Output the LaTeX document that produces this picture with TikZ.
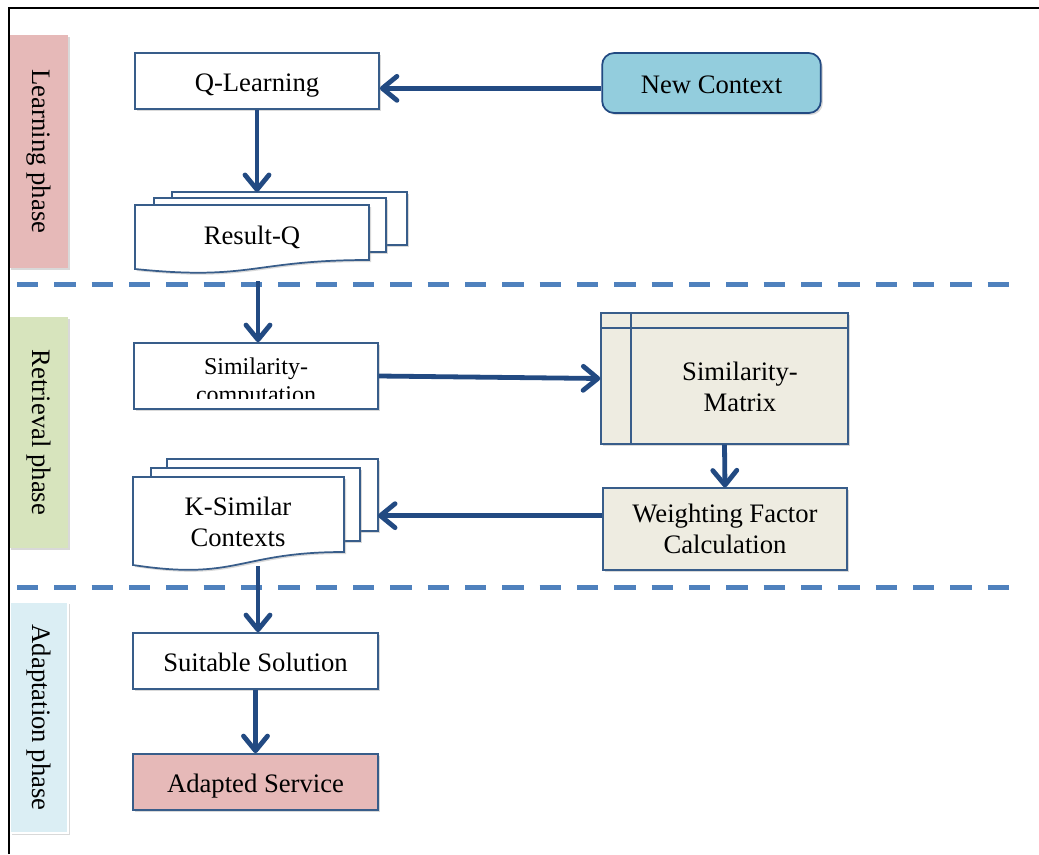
\documentclass[tikz,border=0pt]{standalone}
\usepackage{fontspec}
\setmainfont{Liberation Serif}
\usetikzlibrary{arrows.meta, positioning, calc, shadows}
\definecolor{boxline}{RGB}{56,93,138}
\definecolor{flowblue}{RGB}{34,74,130}
\definecolor{dashblue}{RGB}{79,129,189}
\definecolor{learnpink}{RGB}{230,185,184}
\definecolor{retrgreen}{RGB}{215,228,189}
\definecolor{adaptblue}{RGB}{219,238,244}
\definecolor{ctxblue}{RGB}{147,205,221}
\definecolor{paper}{RGB}{238,236,225}

\begin{document}
\begin{tikzpicture}[x=0.75pt, y=-0.75pt,
  font=\fontsize{20}{23}\selectfont,
  softshadow/.style={drop shadow={opacity=0.3, shadow xshift=1.5pt, shadow yshift=-1.5pt}},
  flowbox/.style={draw=boxline, line width=1.3pt, fill=white, minimum width=183pt,
    minimum height=42pt, inner sep=0pt, align=center, softshadow},
  oneline/.style={text height=15pt, text depth=0pt},
  docfill/.style={draw=boxline, line width=1.3pt, fill=white, softshadow},
  phaseband/.style={minimum width=175pt, minimum height=44pt, inner sep=0pt,
    rotate=-90, softshadow},
  flowarrow/.style={draw=flowblue, line width=3.6pt,
    -{Straight Barb[length=11pt, width=18pt, round]}},
  phasecut/.style={draw=dashblue, line width=3.75pt, dash pattern=on 16pt off 12pt}]
  \useasboundingbox (0,0) rectangle (1039,854);

  % phase bands
  \node[phaseband, fill=learnpink] (learnband) at (38.5,151.5) {Learning phase};
  \node[phaseband, fill=retrgreen, minimum width=173pt] (retrband) at (38.5,432.5) {Retrieval phase};
  \node[phaseband, fill=adaptblue, draw=white, line width=1.5pt, minimum width=173pt] (adaptband) at (39,717.5) {Adaptation phase};

  % frame
  \draw[black, line width=2pt] (9,854) -- (9,8) -- (1039,8);

  % phase separators
  \draw[phasecut] (17,284) -- (1010,284);
  \draw[phasecut] (17,587) -- (1010,587);

  % learning phase
  \node[flowbox, oneline] (qlearn) at (257,81) {Q-Learning};
  \node[flowbox, oneline, fill=ctxblue, draw=flowblue, rounded corners=9pt,
    minimum width=164pt, minimum height=45pt] (newctx) at (711.5,83) {New Context};
  \draw[docfill] (172,192) rectangle (407,245);
  \draw[docfill] (154,198) rectangle (386,252);
  \draw[docfill] (135,205) -- (369,205) -- (369,260) .. controls (252,260) and (252,281) .. (135,269) -- cycle;
  \node (resq) at (252,237) {Result-Q};
  \coordinate (resqtop) at (289,192);

  % retrieval phase
  \node[flowbox, minimum height=49.5pt] (simc) at (256,376) {};
  \begin{scope}
    \clip (137,346) rectangle (375,398);
    \node[align=center, font=\fontsize{18}{21}\selectfont] (simctext) at (256,383) {Similarity-\\computation};
  \end{scope}
  \node[flowbox, fill=paper, minimum width=185pt, minimum height=98pt] (simm) at (724.5,378.5) {};
  \draw[boxline, line width=1.3pt] ([yshift=-12pt]simm.north west) -- ([yshift=-12pt]simm.north east);
  \draw[boxline, line width=1.3pt] ([xshift=23pt]simm.north west) -- ([xshift=23pt]simm.south west);
  \node[align=center] (simmtext) at (740,387) {Similarity-\\Matrix};
  \node[flowbox, fill=paper, minimum height=61pt] (wfc) at (725,529) {Weighting Factor\\Calculation};
  \draw[docfill] (167,459) rectangle (378,531);
  \draw[docfill] (151,468) rectangle (360,541);
  \draw[docfill] (133,477) -- (344,477) -- (344,552) .. controls (238,552) and (238,581) .. (133,565) -- cycle;
  \node[align=center] (ksim) at (238,522) {K-Similar\\Contexts};
  \coordinate (ksimedge) at (378,495);
  \coordinate (ksimfoot) at (258,566);

  % adaptation phase
  \node[flowbox, oneline, minimum width=184pt] (suit) at (255.5,661) {Suitable Solution};
  \node[flowbox, oneline, fill=learnpink, minimum width=184pt] (adapt) at (255.5,782) {Adapted Service};

  % connectors
  \coordinate (cut1) at (258,281);
  \draw[flowarrow] ([yshift=-4pt]newctx.west) -- ([yshift=-4pt]newctx.west -| qlearn.east);
  \draw[flowarrow] (qlearn.south) -- (qlearn.south |- resqtop);
  \draw[flowarrow] (cut1) -- (cut1 |- simc.north);
  \draw[flowarrow] (simc.east) -- (simm.west);
  \draw[flowarrow] (simm.south) -- (wfc.north);
  \draw[flowarrow] ([yshift=10pt]wfc.west) -- ([yshift=10pt]wfc.west -| ksimedge);
  \draw[flowarrow] (ksimfoot) -- (ksimfoot |- suit.north);
  \draw[flowarrow] (suit.south) -- (adapt.north);
\end{tikzpicture}
\end{document}
